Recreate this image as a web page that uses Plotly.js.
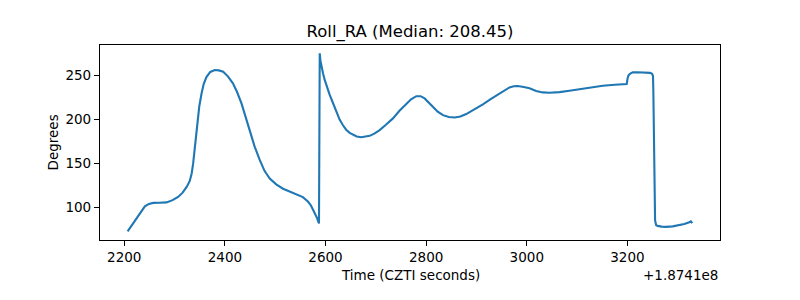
<!DOCTYPE html>
<html>
<head>
<meta charset="utf-8">
<script src="https://cdn.plot.ly/plotly-3.0.1.min.js"></script>
<style>html,body{margin:0;padding:0;background:#fff;}#chart{width:800px;height:300px;}</style>
</head>
<body>
<div id="chart"></div>
<script>
// Time offset shown as "+1.8741e8"
const timeOffsetLabel = "+1.8741e8";
// Times relative to offset (CZTI seconds)
const timeRel = [
  2206.7, 2215, 2224.6, 2233, 2241, 2249, 2257.6, 2270, 2284, 2296, 2307, 2316, 2324, 2330, 2334, 2337, 2340,
  2342.5, 2345, 2349, 2353.6, 2358, 2363.6, 2371, 2380, 2388, 2396.6, 2406, 2416, 2424, 2433, 2441, 2449.5,
  2459, 2469.4, 2479, 2489.2, 2502, 2515.6, 2529, 2542, 2555, 2565, 2571, 2575, 2579, 2583, 2587,
  2588.5, 2590, 2592, 2595, 2598.4, 2603, 2608, 2615, 2621.6, 2628, 2634.7, 2641, 2648, 2655, 2662, 2671, 2680, 2687.7,
  2697, 2707.6, 2720, 2734, 2747, 2760.6, 2770, 2780.4, 2789, 2797, 2805, 2813.4, 2823, 2833.3, 2845,
  2856.5, 2868, 2879.7, 2896, 2912.7, 2929, 2945.8, 2956, 2965.7, 2974, 2982, 2994, 3005.4, 3018.6,
  3031.8, 3045, 3065, 3084.7, 3118, 3150.9, 3175, 3198.6, 3200.3, 3202, 3205, 3210.5, 3220, 3237, 3245,
  3249, 3250.8, 3251.5, 3252.5, 3253.5, 3254.3, 3255, 3257, 3260, 3268, 3276.7, 3290, 3303, 3313, 3323, 3326, 3329
];
// Roll RA in degrees
const rollRA = [
  72.7, 79.5, 87.1, 95, 101, 103.8, 104.9, 105, 105.5, 108, 111.7, 116.5, 123, 129.5, 138.3, 150, 164.8,
  180, 195, 214, 229, 240, 248, 253.5, 255.7, 255.3, 253.8, 248.5, 240.6, 231, 217.8, 203, 187.5,
  169, 153.4, 141, 132.6, 126, 121, 118, 115, 111.5, 106.5, 102, 97.5, 93, 88, 81.5,
  274.6, 266, 259.5, 252, 244.5, 236, 228, 218, 208, 199.5, 193, 188, 184.4, 182, 180.3, 179.5, 180, 181,
  183.5, 187.5, 193.5, 200.8, 209.5, 217.8, 222.5, 226, 226, 223.5, 219, 214, 208.5, 204.5, 202.3,
  201.9, 203, 205.7, 211, 216.7, 223, 229.2, 233.2, 236, 237.3, 237.5, 236.5, 234.9, 232,
  230.3, 229.9, 230.6, 232.2, 235, 237.9, 239, 239.8, 246, 249.5, 251.5, 253, 253.2, 253, 252.5,
  251.5, 249, 233, 185, 138.3, 105, 85, 79.8, 78.8, 78, 77.7, 78.3, 79.5, 81, 83, 84, 82
];
const xTicks = [2200, 2400, 2600, 2800, 3000, 3200];
const yTicks = [100, 150, 200, 250];
const titleText = "Roll_RA (Median: 208.45)";
const xLabel = "Time (CZTI seconds)";
const yLabel = "Degrees";

const font = "DejaVu Sans, sans-serif";
const trace = {
  x: timeRel, y: rollRA, type: "scatter", mode: "lines",
  line: {color: "#1f77b4", width: 2.1}, hoverinfo: "skip"
};
const axisCommon = {
  showline: true, mirror: true, linecolor: "#000", linewidth: 1.1,
  ticks: "outside", ticklen: 5, tickwidth: 1.1, tickcolor: "#000",
  showgrid: false, zeroline: false, tickfont: {family: font, size: 13.5, color: "#000"}
};
const layout = {
  width: 800, height: 300,
  margin: {l: 100, r: 80, t: 45, b: 60},
  paper_bgcolor: "#fff", plot_bgcolor: "#fff",
  showlegend: false,
  title: {text: titleText, font: {family: font, size: 16.5, color: "#000"},
          x: 0.5125, xanchor: "center", xref: "container", y: 1 - 31/300, yanchor: "middle", yref: "container"},
  xaxis: Object.assign({}, axisCommon, {range: [2151.8, 3384], tickvals: xTicks, ticktext: xTicks.map(String)}),
  yaxis: Object.assign({}, axisCommon, {range: [62.8, 284.1], tickvals: yTicks, ticktext: yTicks.map(String)}),
  annotations: [
    {text: xLabel, xref: "paper", yref: "paper", x: 0.5, y: 0, xanchor: "center", yanchor: "middle",
     yshift: -35, showarrow: false, font: {family: font, size: 13.5, color: "#000"}},
    {text: yLabel, xref: "paper", yref: "paper", x: 0, y: 0.5, xanchor: "center", yanchor: "middle",
     xshift: -48, textangle: -90, showarrow: false, font: {family: font, size: 13.5, color: "#000"}},
    {text: timeOffsetLabel, xref: "paper", yref: "paper", x: 1, y: 0, xanchor: "right", yanchor: "middle",
     yshift: -35, showarrow: false, font: {family: font, size: 13.5, color: "#000"}}
  ]
};
Plotly.newPlot("chart", [trace], layout, {displayModeBar: false, staticPlot: true});
</script>
</body>
</html>
